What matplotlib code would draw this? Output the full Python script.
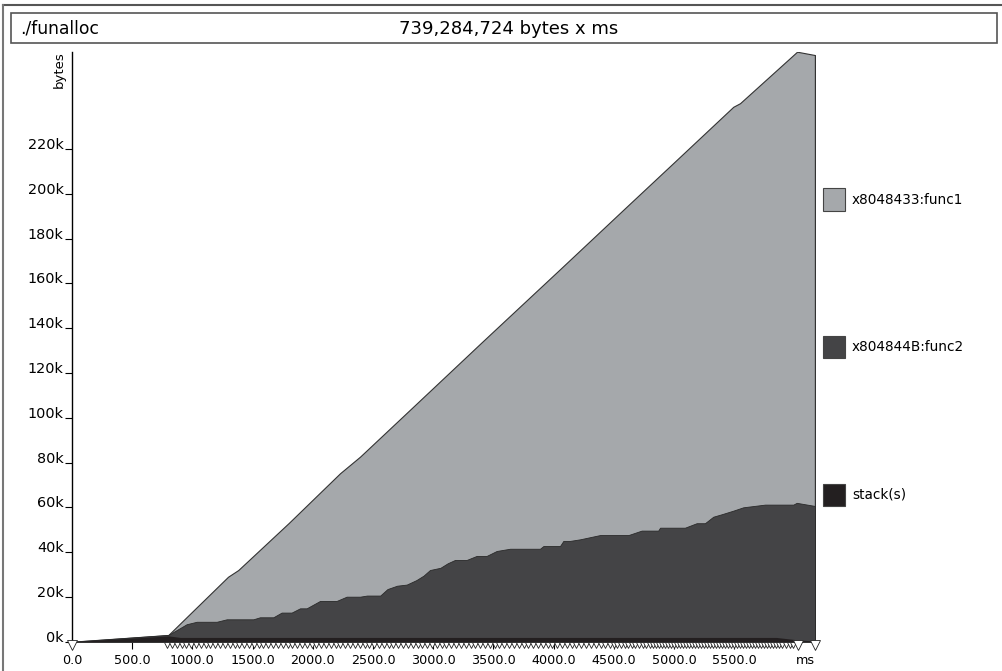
import numpy as np
import matplotlib
matplotlib.use("Agg")
import matplotlib.pyplot as plt
import matplotlib.transforms as mtransforms
from matplotlib.patches import Rectangle
from matplotlib.lines import Line2D

plt.rcParams['font.family'] = ['DejaVu Sans']

# Dati (tempo in ms, memoria in kB)
# bordo superiore di ogni banda (cumulativo)
top_ms = [0, 800, 1000, 1296, 1381, 1800, 2226, 2392, 2800, 3401, 3700,
          4053, 4164, 4600, 5000, 5492, 5548, 6022, 6171]
top_kb = [0.0, 3.0, 13.5, 29.0, 32.0, 53.0, 75.2, 82.6, 103.2, 133.6, 148.6,
          166.3, 171.9, 193.9, 214.0, 238.8, 240.4, 263.4, 261.9]

f2_ms = [0, 800, 952, 1036, 1202, 1285, 1506, 1561, 1672, 1741, 1824, 1894,
         1949, 2060, 2198, 2281, 2392, 2450, 2560, 2620, 2700, 2780, 2860,
         2920, 2973, 3060, 3120, 3181, 3278, 3361, 3444, 3527, 3638, 3887,
         3915, 4053, 4081, 4136, 4219, 4385, 4621, 4731, 4869, 4884, 5091,
         5188, 5257, 5326, 5396, 5492, 5575, 5756, 5991, 6019, 6171]
f2_kb = [0.0, 3.0, 7.8, 8.9, 8.9, 10.0, 10.0, 10.9, 10.9, 13.0, 13.0, 14.9,
         14.9, 18.2, 18.2, 20.1, 20.1, 20.6, 20.6, 23.5, 25.0, 25.5, 27.5,
         29.5, 32.0, 33.0, 35.0, 36.5, 36.5, 38.3, 38.3, 40.5, 41.5, 41.5,
         42.7, 42.7, 45.0, 45.0, 45.7, 47.6, 47.6, 49.6, 49.6, 50.9, 50.9,
         52.9, 52.9, 55.8, 56.9, 58.5, 60.0, 61.2, 61.2, 62.0, 60.6]

stack_ms = [0, 800, 900, 5850, 6030, 6171]
stack_kb = [0.0, 2.6, 1.9, 1.9, 0.8, 0.3]

# istanti dei campioni (triangolini sotto l'asse)
sample_ms = [790, 830, 870, 910, 950, 990, 1030, 1070, 1110,
             1150, 1190, 1230, 1270, 1310, 1350, 1390, 1430, 1470, 1510,
             1550, 1590, 1630, 1670, 1710, 1750, 1790, 1830, 1870, 1910,
             1950, 1990, 2030, 2070, 2110, 2150, 2190, 2230, 2270, 2310,
             2350, 2390, 2430, 2470, 2510, 2550, 2590, 2630, 2670, 2710,
             2750, 2790, 2830, 2870, 2910, 2950, 2990, 3030, 3070, 3110,
             3150, 3190, 3230, 3270, 3310, 3350, 3390, 3430, 3470, 3510,
             3550, 3590, 3630, 3670, 3710, 3750, 3790, 3830, 3870, 3910,
             3950, 3990, 4030, 4070, 4110, 4150, 4190, 4230, 4270, 4310,
             4350, 4390, 4430, 4470, 4500, 4530, 4560, 4590, 4620, 4650,
             4680, 4710, 4740, 4770, 4800, 4825, 4850, 4875, 4900, 4925,
             4950, 4975, 5000, 5025, 5050, 5075, 5100, 5125, 5150, 5175,
             5200, 5225, 5250, 5275, 5300, 5325, 5350, 5375, 5400, 5425,
             5450, 5475, 5500, 5525, 5550, 5575, 5600, 5625, 5650, 5675,
             5700, 5725, 5750, 5775, 5800, 5825, 5850, 5875, 5900, 5930,
             5960, 5990]
big_sample_ms = [0, 6030, 6171]

legend_labels = ['x8048433:func1', 'x804844B:func2', 'stack(s)']
band_colors = ['#a5a8ab', '#444446', '#231f20']

xtick_vals = [0, 500, 1000, 1500, 2000, 2500, 3000, 3500, 4000, 4500, 5000, 5500]
xtick_labels = ['0.0', '500.0', '1000.0', '1500.0', '2000.0', '2500.0', '3000.0',
                '3500.0', '4000.0', '4500.0', '5000.0', '5500.0']
ytick_vals = [0, 20, 40, 60, 80, 100, 120, 140, 160, 180, 200, 220]
ytick_labels = [f'{v}k' for v in ytick_vals]

title_left = './funalloc'
title_mid = '739,284,724 bytes x ms'

W, H = 1003, 671
fig = plt.figure(figsize=(W / 100, H / 100), dpi=100)

def fx(x):
    return x / W

def fy(y):
    return 1 - y / H

# cornice esterna e riquadro del titolo
fig.add_artist(Line2D([fx(3), fx(W)], [fy(5), fy(5)], color='#555555', lw=1.5))
fig.add_artist(Line2D([fx(3), fx(3)], [fy(5), fy(H)], color='#777777', lw=1.5))
fig.add_artist(Rectangle((fx(10.7), fy(43.3)), fx(986), 30 / H, fill=False,
                         edgecolor='#555555', lw=1.2))
fig.text(fx(20), fy(28.5), title_left, fontsize=12.3, va='center', ha='left')
fig.text(fx(509), fy(28.5), title_mid, fontsize=13, va='center', ha='center')

ax = fig.add_axes([fx(72), fy(641.7), fx(815 - 72), (641.7 - 51.7) / H])

ax.fill_between(top_ms, top_kb, color=band_colors[0], edgecolor='#333333',
                lw=0.8, zorder=2)
ax.plot([top_ms[-1], top_ms[-1]], [0, top_kb[-1]], color='#333333', lw=0.9, zorder=2)
ax.fill_between(f2_ms, f2_kb, color=band_colors[1], edgecolor='#2a2a2a',
                lw=0.6, zorder=3)
ax.fill_between(stack_ms, stack_kb, color=band_colors[2], lw=0, zorder=4)

ax.set_xlim(0, 6171)
ax.set_ylim(0, 263.4)

for s in ['top', 'right', 'bottom']:
    ax.spines[s].set_visible(False)
ax.spines['left'].set_linewidth(1.0)
ax.spines['left'].set_color('black')

ax.set_xticks(xtick_vals)
ax.set_xticklabels(xtick_labels, fontsize=9.2)
ax.set_yticks(ytick_vals)
ax.set_yticklabels(ytick_labels, fontsize=10.4)
ax.tick_params(axis='x', direction='out', length=5, width=0.8, pad=4)
ax.tick_params(axis='y', direction='out', length=5, width=0.8, pad=1)
for lbl in ax.get_yticklabels():
    lbl.set_verticalalignment('baseline')

# triangolini dei campioni sotto l'asse x
tr_small = mtransforms.offset_copy(ax.transData, fig=fig, y=-2.2, units='points')
ax.plot(sample_ms, np.zeros(len(sample_ms)), linestyle='none', marker='v',
        markersize=4.6, markerfacecolor='white', markeredgecolor='#222222',
        markeredgewidth=0.6, transform=tr_small, clip_on=False, zorder=6)
tr_big = mtransforms.offset_copy(ax.transData, fig=fig, y=-2.6, units='points')
ax.plot(big_sample_ms, np.zeros(len(big_sample_ms)), linestyle='none', marker='v',
        markersize=6.5, markerfacecolor='white', markeredgecolor='#222222',
        markeredgewidth=0.6, transform=tr_big, clip_on=False, zorder=6)

ax.text(0, 1.0, 'bytes', transform=mtransforms.offset_copy(ax.transAxes, fig=fig, x=-13, y=0, units='dots'),
        rotation=90, fontsize=9.5, ha='center', va='top')
fig.text(fx(805), fy(660.5), 'ms', fontsize=9.2, ha='center', va='center')

# legenda manuale
legend_y = [199.5, 347.0, 494.5]
for lab, col, yc in zip(legend_labels, band_colors, legend_y):
    fig.add_artist(Rectangle((fx(822.5), fy(yc + 11)), 22.5 / W, 22 / H,
                             facecolor=col, edgecolor='#444444', lw=0.8))
    fig.text(fx(852), fy(yc), lab, fontsize=9.8, ha='left', va='center')

fig.savefig('out.png', dpi=100)
